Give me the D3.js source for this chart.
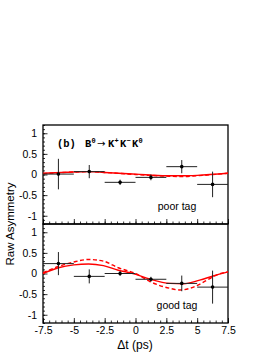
<!DOCTYPE html>
<html>
<head>
<meta charset="utf-8">
<script src="https://cdn.jsdelivr.net/npm/d3@7"></script>
<style>
  body { margin: 0; background: #fff; }
  svg { display: block; font-family: "Liberation Sans", Arial, sans-serif; }
</style>
</head>
<body>
<script>
// bin centres and half width (ps)
var binCentres = [-6.25, -3.75, -1.25, 1.25, 3.75, 6.25];
var binHalf = 1.25;

var poorAsym = [0.01, 0.07, -0.19, -0.07, 0.19, -0.24];
var poorErr = [0.37, 0.16, 0.065, 0.07, 0.16, 0.31];
var goodAsym = [0.24, -0.07, 0.0, -0.14, -0.24, -0.33];
var goodErr = [0.28, 0.17, 0.06, 0.06, 0.19, 0.4];

// fit curves
var poorFitT = [-7.5, -5, -3.75, -2.5, 0, 2.5, 3.75, 5, 7.5];
var poorFitSolid = [0.03, 0.06, 0.07, 0.05, 0.01, -0.03, -0.03, -0.02, 0.03];
var poorFitDashed = [0.02, 0.06, 0.07, 0.05, 0.0, -0.04, -0.05, -0.03, 0.03];

var goodSolidT = [-7.5, -6.25, -5, -3.8, -2.6, -1.4, -0.2, 1.2, 2.8, 3.9, 5.2, 6.3, 7.5];
var goodSolid = [0.0, 0.14, 0.21, 0.23, 0.19, 0.08, 0.0, -0.14, -0.24, -0.25, -0.16, -0.06, 0.04];
var goodDashedT = [-7.5, -6.25, -5, -3.8, -2.6, -1.4, 0, 1.2, 2.8, 3.6, 4.7, 5.8, 6.7, 7.5];
var goodDashed = [0.02, 0.17, 0.28, 0.34, 0.30, 0.14, 0.0, -0.2, -0.36, -0.40, -0.33, -0.16, -0.02, 0.04];

var xTicks = [-7.5, -5, -2.5, 0, 2.5, 5, 7.5];
var yTicks = [-1, -0.5, 0, 0.5, 1];

var w = 274, h = 355;
var left = 43, right = 228;
var panelH = 99;
var panels = [
    {top: 125, label: "poor tag", asym: poorAsym, err: poorErr,
     solid: poorFitT.map((t, i) => [t, poorFitSolid[i]]),
     dashed: poorFitT.map((t, i) => [t, poorFitDashed[i]])},
    {top: 224, label: "good tag", asym: goodAsym, err: goodErr,
     solid: goodSolidT.map((t, i) => [t, goodSolid[i]]),
     dashed: goodDashedT.map((t, i) => [t, goodDashed[i]])}
];

var svg = d3.select("body")
            .append("svg")
            .attr("width", w)
            .attr("height", h);

var xScale = d3.scaleLinear()
                .domain([-7.5, 7.5])
                .range([left, right]);

var fmt = function(d) { return String(d); };

panels.forEach(function(p, k) {
    var yScale = d3.scaleLinear()
                    .domain([-1.2, 1.2])
                    .range([p.top + panelH, p.top]);

    var g = svg.append("g");

    // frame
    g.append("rect")
        .attr("x", left)
        .attr("y", p.top)
        .attr("width", right - left)
        .attr("height", panelH)
        .attr("fill", "none")
        .attr("stroke", "#000")
        .attr("stroke-width", 1.3);

    // y axis: minor + major ticks, inward
    var yMinor = d3.axisLeft(yScale)
                    .tickValues(d3.range(-12, 13).map(d => d / 10))
                    .tickSize(-2)
                    .tickFormat("");
    var yMajor = d3.axisLeft(yScale)
                    .tickValues(yTicks)
                    .tickSize(-4.5)
                    .tickPadding(6)
                    .tickFormat(fmt);

    g.append("g")
        .attr("transform", "translate(" + left + ",0)")
        .call(yMinor);
    var ya = g.append("g")
        .attr("transform", "translate(" + left + ",0)")
        .call(yMajor);
    ya.selectAll("text").attr("font-size", "10.5px").attr("fill", "#000");

    // x axis at panel bottom, ticks pointing up
    var xMinor = d3.axisBottom(xScale)
                    .tickValues(d3.range(-15, 16).map(d => d / 2))
                    .tickSize(-2.5)
                    .tickFormat("");
    var xMajor = d3.axisBottom(xScale)
                    .tickValues(xTicks)
                    .tickSize(-5)
                    .tickPadding(4)
                    .tickFormat(k == 1 ? fmt : "");

    g.append("g")
        .attr("transform", "translate(0," + (p.top + panelH) + ")")
        .call(xMinor);
    var xa = g.append("g")
        .attr("transform", "translate(0," + (p.top + panelH) + ")")
        .call(xMajor);
    xa.selectAll("text").attr("font-size", "10.5px").attr("fill", "#000");

    g.selectAll(".domain").remove();
    g.selectAll(".tick line").attr("stroke", "#000").attr("stroke-width", 0.8);

    // fit curves
    var line = d3.line()
                .x(d => xScale(d[0]))
                .y(d => yScale(d[1]))
                .curve(d3.curveMonotoneX);

    g.append("path")
        .datum(p.dashed)
        .attr("d", line)
        .attr("fill", "none")
        .attr("stroke", "#ff0000")
        .attr("stroke-width", 1.4)
        .attr("stroke-dasharray", "4,2.5");

    g.append("path")
        .datum(p.solid)
        .attr("d", line)
        .attr("fill", "none")
        .attr("stroke", "#ff0000")
        .attr("stroke-width", 1.4);

    // data points with error bars
    var pts = g.selectAll(".pt")
                .data(binCentres.map((c, i) => ({t: c, a: p.asym[i], e: p.err[i]})))
                .enter()
                .append("g");

    pts.append("line")
        .attr("x1", d => xScale(d.t - binHalf))
        .attr("x2", d => xScale(d.t + binHalf))
        .attr("y1", d => yScale(d.a))
        .attr("y2", d => yScale(d.a))
        .attr("stroke", "#222")
        .attr("stroke-width", 1);

    pts.append("line")
        .attr("x1", d => xScale(d.t))
        .attr("x2", d => xScale(d.t))
        .attr("y1", d => yScale(Math.min(d.a + d.e, 1.2)))
        .attr("y2", d => yScale(Math.max(d.a - d.e, -1.2)))
        .attr("stroke", "#222")
        .attr("stroke-width", 1);

    pts.append("circle")
        .attr("cx", d => xScale(d.t))
        .attr("cy", d => yScale(d.a))
        .attr("r", 1.8)
        .attr("fill", "#000");

    g.append("text")
        .attr("x", 177)
        .attr("y", p.top + 85)
        .attr("text-anchor", "middle")
        .attr("font-size", "10.5px")
        .text(p.label);
});

// decay mode label
var title = svg.append("text")
                .attr("y", 147)
                .attr("font-family", "'Liberation Mono', 'DejaVu Sans Mono', monospace")
                .attr("font-weight", "bold")
                .attr("font-size", "10.5px");
var sup = function(x, s) {
    title.append("tspan").attr("x", x).attr("y", 143).attr("font-size", "7px").text(s);
};
var base = function(x, s) {
    title.append("tspan").attr("x", x).attr("y", 147).text(s);
};
base(57, "(b)");
base(85, "B");
sup(91.5, "0");
title.append("tspan").attr("x", 97).attr("y", 147)
    .attr("font-family", "'DejaVu Sans', sans-serif")
    .attr("font-weight", "normal").attr("font-size", "10px").text("\u2192");
base(108, "K");
sup(114.5, "+");
base(120, "K");
sup(126.5, "\u2212");
base(132, "K");
sup(138.5, "0");

// axis titles
svg.append("text")
    .attr("transform", "translate(14,224) rotate(-90)")
    .attr("text-anchor", "middle")
    .attr("font-size", "11.5px")
    .text("Raw Asymmetry");

svg.append("text")
    .attr("x", 135)
    .attr("y", 349)
    .attr("text-anchor", "middle")
    .attr("font-size", "12px")
    .text("\u0394t (ps)");
</script>
</body>
</html>
